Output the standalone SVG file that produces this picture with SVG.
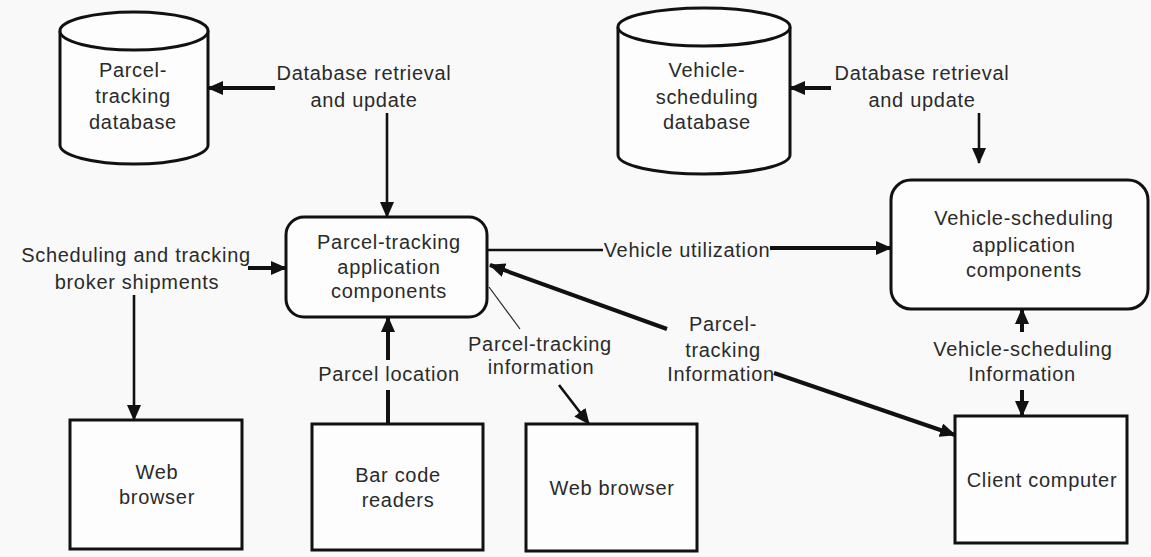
<svg xmlns="http://www.w3.org/2000/svg" width="1151" height="557" viewBox="0 0 1151 557">
<style>
.bg{fill:#f9f9f9}
.shape{fill:#fdfdfd;stroke:#111;stroke-width:3}
.t{font-family:"Liberation Sans",Arial,sans-serif;font-size:20px;letter-spacing:0.7px;fill:#2a2a2a;text-anchor:middle}
.c{fill:none;stroke:#111;stroke-width:2.6}
.thick{stroke-width:4}
.thin{fill:none;stroke:#222;stroke-width:1.2}
</style>
<defs>
<marker id="ah" markerUnits="userSpaceOnUse" markerWidth="16" markerHeight="14" refX="15" refY="7" orient="auto">
<path d="M0,0 L16,7 L0,14 z" fill="#111"/>
</marker>
</defs>
<rect class="bg" x="0" y="0" width="1151" height="557"/>

<g id="parcel-db">
<path class="shape" d="M60,31 L60,145 A74,19 0 0 0 208,145 L208,31"/>
<ellipse class="shape" cx="134" cy="31" rx="74" ry="19"/>
<text class="t" x="133" y="77">Parcel-</text>
<text class="t" x="133" y="103">tracking</text>
<text class="t" x="133" y="129">database</text>
</g>

<g id="vehicle-db">
<path class="shape" d="M618,27 L618,155 A86,19 0 0 0 790,155 L790,27"/>
<ellipse class="shape" cx="704" cy="27" rx="86" ry="19"/>
<text class="t" x="707" y="77">Vehicle-</text>
<text class="t" x="707" y="104">scheduling</text>
<text class="t" x="707" y="129">database</text>
</g>

<g id="parcel-app">
<rect class="shape" x="286" y="217" width="201" height="100" rx="18"/>
<text class="t" x="389" y="249">Parcel-tracking</text>
<text class="t" x="389" y="274">application</text>
<text class="t" x="389" y="298">components</text>
</g>

<g id="vehicle-app">
<rect class="shape" x="891" y="180" width="257" height="129" rx="20"/>
<text class="t" x="1024" y="225">Vehicle-scheduling</text>
<text class="t" x="1024" y="252">application</text>
<text class="t" x="1024" y="277">components</text>
</g>

<g id="web-browser-1">
<rect class="shape" x="70" y="420" width="172" height="129"/>
<text class="t" x="157" y="479">Web</text>
<text class="t" x="157" y="504">browser</text>
</g>

<g id="bar-code-readers">
<rect class="shape" x="312" y="424" width="171" height="126"/>
<text class="t" x="398" y="482">Bar code</text>
<text class="t" x="398" y="507">readers</text>
</g>

<g id="web-browser-2">
<rect class="shape" x="526" y="424" width="171" height="127"/>
<text class="t" x="612" y="495">Web browser</text>
</g>

<g id="client-computer">
<rect class="shape" x="955" y="416" width="172" height="127"/>
<text class="t" x="1042" y="487">Client computer</text>
</g>

<g id="connectors">
<line class="c thick" x1="275" y1="88" x2="208" y2="88" marker-end="url(#ah)"/>
<line class="c" x1="387" y1="113" x2="387" y2="217" marker-end="url(#ah)"/>
<line class="c thick" x1="831" y1="88" x2="790" y2="88" marker-end="url(#ah)"/>
<line class="c" x1="979" y1="113" x2="979" y2="163" marker-end="url(#ah)"/>
<line class="c thick" x1="248" y1="268" x2="286" y2="268" marker-end="url(#ah)"/>
<line class="c" x1="134" y1="295" x2="134" y2="420" marker-end="url(#ah)"/>
<line class="c thick" x1="388" y1="424" x2="388" y2="390"/>
<line class="c thick" x1="388" y1="360" x2="388" y2="317" marker-end="url(#ah)"/>
<line class="thin" x1="489" y1="287" x2="520" y2="329"/>
<line class="c" x1="559" y1="385" x2="589" y2="424" marker-end="url(#ah)"/>
<line class="c" x1="487" y1="250" x2="603" y2="250"/>
<line class="c thick" x1="770" y1="248" x2="891" y2="248" marker-end="url(#ah)"/>
<line class="c thick" x1="667" y1="329" x2="490" y2="265" marker-end="url(#ah)"/>
<line class="c thick" x1="774" y1="373" x2="955" y2="435" marker-end="url(#ah)"/>
<line class="c thick" x1="1022" y1="332" x2="1022" y2="309" marker-end="url(#ah)"/>
<line class="c thick" x1="1022" y1="390" x2="1022" y2="416" marker-end="url(#ah)"/>
</g>

<g id="labels">
<text class="t" x="364" y="80">Database retrieval</text>
<text class="t" x="364" y="107">and update</text>
<text class="t" x="922" y="80">Database retrieval</text>
<text class="t" x="922" y="107">and update</text>
<text class="t" x="136" y="262">Scheduling and tracking</text>
<text class="t" x="137" y="289">broker shipments</text>
<text class="t" x="389" y="381">Parcel location</text>
<text class="t" x="540" y="351">Parcel-tracking</text>
<text class="t" x="541" y="374">information</text>
<text class="t" x="687" y="257">Vehicle utilization</text>
<text class="t" x="723" y="331">Parcel-</text>
<text class="t" x="723" y="357">tracking</text>
<text class="t" x="721" y="381">Information</text>
<text class="t" x="1023" y="356">Vehicle-scheduling</text>
<text class="t" x="1022" y="381">Information</text>
</g>
</svg>
